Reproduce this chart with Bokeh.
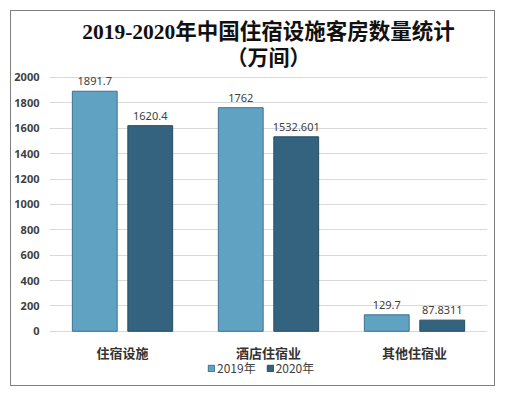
from bokeh.plotting import figure
from bokeh.models import (ColumnDataSource, FactorRange, Range1d, Title, LabelSet,
                          Legend, LegendItem, FixedTicker)
from bokeh.core.properties import value
from bokeh.transform import dodge
from bokeh.embed import file_html
from bokeh.resources import INLINE

categories = ["住宿设施", "酒店住宿业", "其他住宿业"]
years = ["2019年", "2020年"]
values_2019 = [1891.7, 1762, 129.7]
values_2020 = [1620.4, 1532.601, 87.8311]
labels_2019 = ["1891.7", "1762", "129.7"]
labels_2020 = ["1620.4", "1532.601", "87.8311"]
base = [0, 0, 0]
y_ticks = [0, 200, 400, 600, 800, 1000, 1200, 1400, 1600, 1800, 2000]

src = ColumnDataSource(dict(cat=categories, v19=values_2019, v20=values_2020,
                            l19=labels_2019, l20=labels_2020, base=base))

p = figure(width=485, height=376, x_range=FactorRange(*categories, range_padding=0),
           y_range=Range1d(-443, 2063), output_backend="svg", toolbar_location=None,
           x_axis_location=None,
           min_border_left=36, min_border_right=9, min_border_top=58,
           min_border_bottom=0)
p.styles = {"border": "1px solid #7f7f7f", "margin-left": "10px", "margin-top": "10px"}
p.background_fill_color = "white"
p.border_fill_color = "white"
p.outline_line_color = None

c19, c20 = "#60a2c2", "#33637f"
r1 = p.vbar(x=dodge("cat", -0.19, range=p.x_range), top="v19", bottom="base", width=0.307,
            source=src, fill_color=c19, line_color="#3d7090", line_width=1)
r2 = p.vbar(x=dodge("cat", 0.19, range=p.x_range), top="v20", bottom="base", width=0.307,
            source=src, fill_color=c20, line_color="#264c62", line_width=1)

for xo, col, ys in ((-0.19, "l19", "v19"), (0.19, "l20", "v20")):
    p.add_layout(LabelSet(x=dodge("cat", xo, range=p.x_range), y=ys, text=col, source=src,
                          text_align="center", text_baseline="bottom", y_offset=6,
                          text_font=value("Noto Sans"), text_font_size=value("11px"),
                          text_color=value("#404040")))

# category labels under the zero line
p.add_layout(LabelSet(x="cat", y="base", text="cat", source=src, text_align="center",
                      text_baseline="middle", y_offset=-21,
                      text_font=value("Noto Sans CJK SC"), text_font_size=value("13px"),
                      text_font_style=value("bold"), text_color=value("#333333")))

p.title.text = "2019-2020年中国住宿设施客房数量统计"
p.title.align = "center"
p.title.text_font = "Liberation Serif, Noto Sans CJK SC"
p.title.text_font_size = "21.5px"
p.title.text_color = "#111111"
p.title.standoff = 0
p.add_layout(Title(text="（万间）", align="center", standoff=0,
                   text_font="Liberation Serif, Noto Sans CJK SC",
                   text_font_size="21px", text_font_style="bold", text_color="#111111"), "above")

p.xgrid.grid_line_color = None
p.ygrid.grid_line_color = "#d9d9d9"
p.yaxis.ticker = FixedTicker(ticks=y_ticks)
p.yaxis.axis_line_color = None
p.yaxis.major_tick_line_color = None
p.yaxis.minor_tick_line_color = None
p.yaxis.major_tick_out = 0
p.yaxis.major_tick_in = 0
p.yaxis.major_label_text_font = "Noto Sans"
p.yaxis.major_label_text_font_size = "11px"
p.yaxis.major_label_text_font_style = "bold"
p.yaxis.major_label_text_color = "#404040"
p.yaxis.major_label_standoff = 10

legend = Legend(items=[LegendItem(label=years[0], renderers=[r1]),
                       LegendItem(label=years[1], renderers=[r2])],
                orientation="horizontal", location=(158, 11),
                label_text_font="Noto Sans CJK SC", label_text_font_size="12px",
                label_text_color="#404040", glyph_width=8, glyph_height=8,
                label_height=14, label_standoff=2, spacing=10, padding=0, margin=0,
                border_line_color=None, background_fill_alpha=0)
p.add_layout(legend)

open("out.html", "w").write(file_html(p, INLINE))
